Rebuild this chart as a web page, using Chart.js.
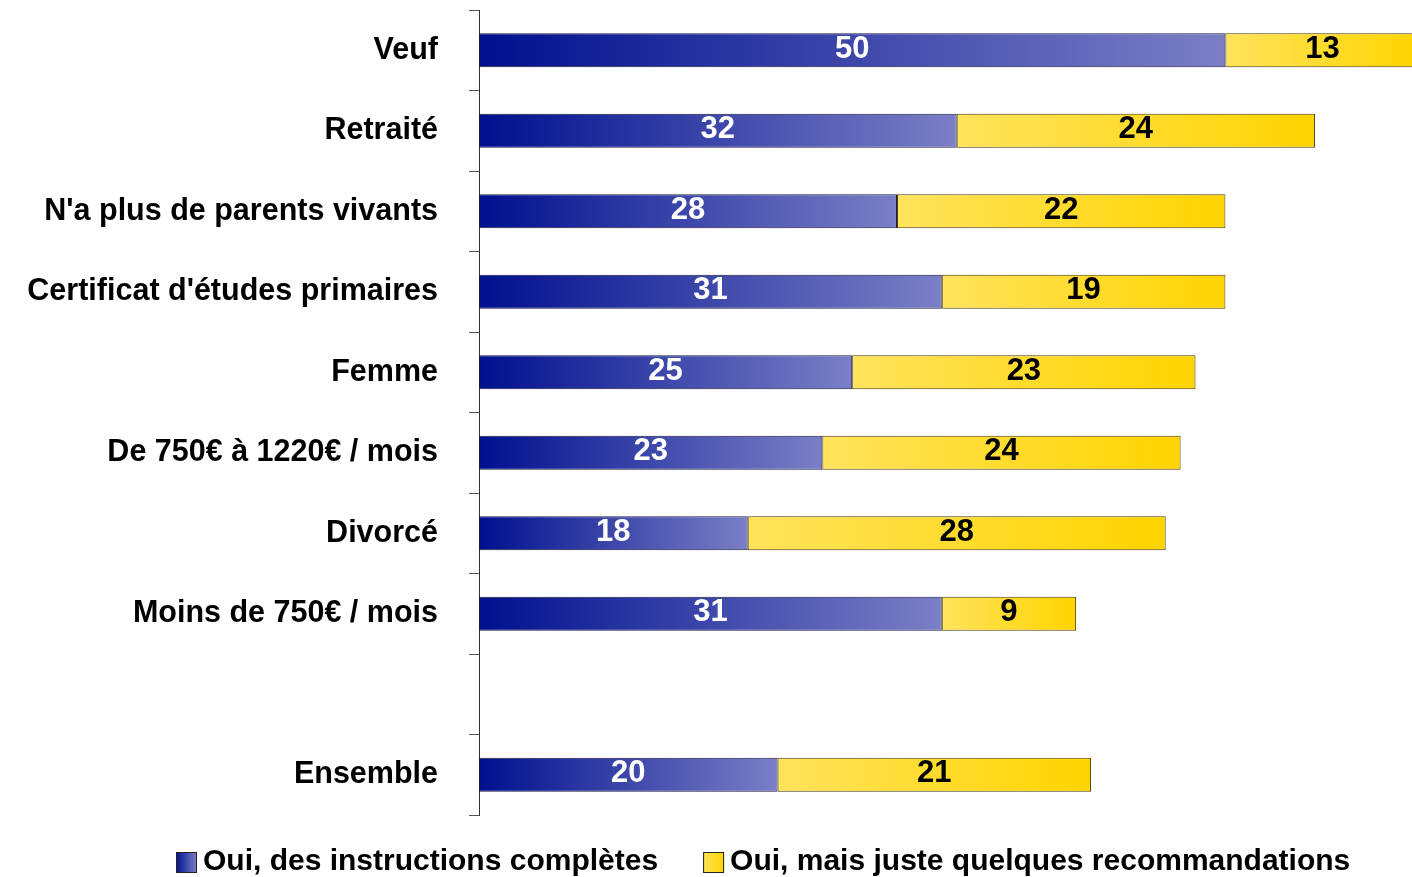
<!DOCTYPE html>
<html>
<head>
<meta charset="utf-8">
<script src="https://cdn.jsdelivr.net/npm/chart.js@4/dist/chart.umd.min.js"></script>
<style>
  body { margin: 0; background: #fff; }
  #wrap { width: 1412px; height: 877px; }
</style>
</head>
<body>
<div id="wrap"><canvas id="myBarChart"></canvas></div>
<script>
// catégories (la ligne vide sépare "Ensemble")
const categories = [
  "Veuf",
  "Retraité",
  "N'a plus de parents vivants",
  "Certificat d'études primaires",
  "Femme",
  "De 750€ à 1220€ / mois",
  "Divorcé",
  "Moins de 750€ / mois",
  "",
  "Ensemble",
];
const seriesNames = [
  "Oui, des instructions complètes",
  "Oui, mais juste quelques recommandations",
];
const completes = [50, 32, 28, 31, 25, 23, 18, 31, null, 20];
const recommandations = [13, 24, 22, 19, 23, 24, 28, 9, null, 21];

const FONT = "'Liberation Sans', Arial, sans-serif";
const blueStops = ["#00108e", "#7b7fc6"];
const yellowStops = ["#ffe35c", "#ffd400"];

// dégradé horizontal propre à chaque barre
function barGradient(context, stops) {
  const chart = context.chart;
  if (!chart.chartArea) return stops[1];
  const xs = chart.scales.x;
  let start = 0;
  for (let d = 0; d < context.datasetIndex; d++) {
    start += chart.data.datasets[d].data[context.dataIndex] || 0;
  }
  const v = context.raw || 0;
  const x0 = xs.getPixelForValue(start);
  const x1 = xs.getPixelForValue(start + v);
  if (!isFinite(x0) || !isFinite(x1) || x1 === x0) return stops[1];
  const g = chart.ctx.createLinearGradient(x0, 0, x1, 0);
  g.addColorStop(0, stops[0]);
  g.addColorStop(1, stops[1]);
  return g;
}

// valeurs au centre des segments
const valueLabels = {
  id: "valueLabels",
  afterDatasetsDraw(chart) {
    const ctx = chart.ctx;
    ctx.save();
    ctx.font = "bold 31px " + FONT;
    ctx.textAlign = "center";
    ctx.textBaseline = "middle";
    chart.data.datasets.forEach((ds, di) => {
      const meta = chart.getDatasetMeta(di);
      meta.data.forEach((bar, i) => {
        const v = ds.data[i];
        if (v === null || v === undefined) return;
        ctx.fillStyle = di === 0 ? "#ffffff" : "#000000";
        ctx.fillText(String(v), (bar.x + bar.base) / 2, bar.y - 1);
      });
    });
    ctx.restore();
  },
};

// légende dessinée à la main (carrés en dégradé)
const customLegend = {
  id: "customLegend",
  afterDraw(chart) {
    const ctx = chart.ctx;
    ctx.save();
    ctx.font = "bold 30px " + FONT;
    ctx.textBaseline = "middle";
    ctx.textAlign = "left";
    const stops = [blueStops, yellowStops];
    let x = 176;
    const yMid = 862;
    seriesNames.forEach((name, i) => {
      const g = ctx.createLinearGradient(x, 0, x + 21, 0);
      g.addColorStop(0, stops[i][0]);
      g.addColorStop(1, stops[i][1]);
      ctx.fillStyle = g;
      ctx.fillRect(x, yMid - 10, 21, 21);
      ctx.strokeStyle = "#222";
      ctx.lineWidth = 1;
      ctx.strokeRect(x + 0.5, yMid - 9.5, 20, 20);
      ctx.fillStyle = "#000";
      ctx.fillText(name, x + 27, yMid);
      x += 27 + ctx.measureText(name).width + 45;
    });
    ctx.restore();
  },
};

const ctx = document.getElementById("myBarChart").getContext("2d");
new Chart(ctx, {
  type: "bar",
  data: {
    labels: categories,
    datasets: [
      {
        label: seriesNames[0],
        data: completes,
        backgroundColor: (c) => barGradient(c, blueStops),
        borderColor: "#1a1a40",
        borderWidth: 1,
        borderSkipped: false,
        barPercentage: 0.42,
        categoryPercentage: 1,
      },
      {
        label: seriesNames[1],
        data: recommandations,
        backgroundColor: (c) => barGradient(c, yellowStops),
        borderColor: "#4a3c08",
        borderWidth: 1,
        borderSkipped: false,
        barPercentage: 0.42,
        categoryPercentage: 1,
      },
    ],
  },
  options: {
    indexAxis: "y",
    responsive: true,
    maintainAspectRatio: false,
    animation: false,
    layout: { padding: { top: 10, bottom: 62, left: 0, right: 0 } },
    scales: {
      x: {
        stacked: true,
        display: false,
        min: 0,
        max: 62.5,
      },
      y: {
        stacked: true,
        afterFit(scale) {
          scale.width = 479;
          scale.paddingTop = 0;
          scale.paddingBottom = 0;
        },
        border: { display: true, color: "#333", width: 1 },
        grid: {
          offset: true,
          drawOnChartArea: false,
          drawTicks: true,
          tickLength: 10,
          color: "#555",
        },
        ticks: {
          padding: 31,
          color: "#000",
          font: { family: FONT, size: 30.5, weight: "bold" },
        },
      },
    },
    plugins: {
      legend: { display: false },
      tooltip: { enabled: false },
    },
  },
  plugins: [valueLabels, customLegend],
});
</script>
</body>
</html>
